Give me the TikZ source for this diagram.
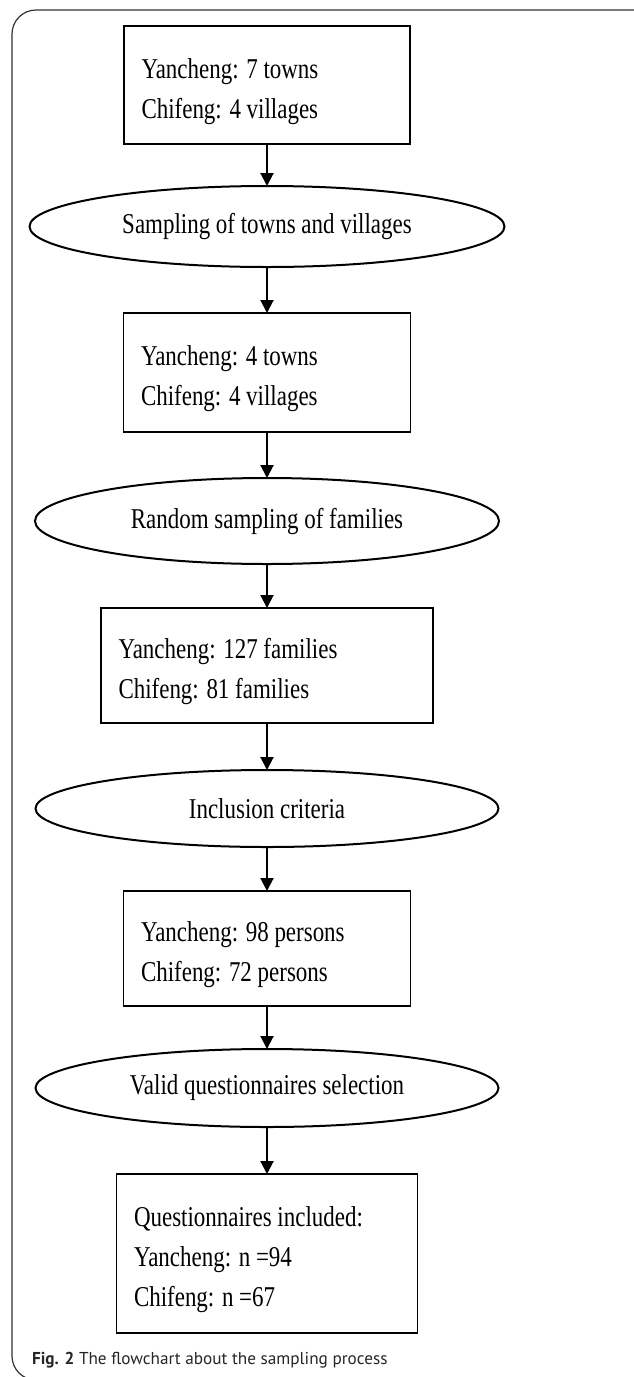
\documentclass[tikz,border=0pt]{standalone}
\usepackage{fontspec}
\setmainfont{Liberation Serif}[FakeStretch=0.8]
\newfontfamily\capfont{PT Sans}
\usetikzlibrary{positioning,shapes.geometric,arrows.meta}

\begin{document}
\begin{tikzpicture}[x=0.5pt, y=-0.5pt,
    stage/.style={draw, rectangle, line width=0.8pt, align=flush left, inner xsep=8.75pt, inner ysep=0pt, outer sep=0pt,
        font=\fontsize{14.35pt}{20pt}\selectfont, execute at begin node={\rule{0pt}{16.3pt}}},
    choice/.style={draw, ellipse, line width=1pt, inner sep=0pt, outer sep=0pt, font=\fontsize{14.35pt}{20pt}\selectfont},
    flow/.style={-{Triangle[length=6.5pt, width=6.5pt]}, line width=1pt}]
                  \useasboundingbox (0,0) rectangle (633,1377);
                  % Frame and caption
                  \draw [black!80, line width=0.6pt, rounded corners=12] (680,10) -| (12,1380) -- (680,1380);
                  \node [anchor=base west, text=black!85, font=\capfont\fontsize{8.6pt}{10pt}\selectfont] (caption) at (25,1364) {\textbf{Fig. 2} The flowchart about the sampling process};

                  % Boxes and sampling steps
                  \node [stage, text width=125.5pt, minimum height=59pt] (towns) at (267,85) {Yancheng: 7 towns\\Chifeng: 4 villages};
                  \node [choice, minimum width=237.5pt, minimum height=40.5pt, below=21pt of towns] (pickTowns) {Sampling of towns and villages};
                  \node [stage, text width=126pt, minimum height=59.5pt, below=23pt of pickTowns] (sites) {Yancheng: 4 towns\\Chifeng: 4 villages};
                  \node [choice, minimum width=232pt, minimum height=43pt, below=23pt of sites] (pickFamilies) {Random sampling of families};
                  \node [stage, text width=148.5pt, minimum height=57.5pt, below=22pt of pickFamilies] (families) {Yancheng: 127 families\\Chifeng: 81 families};
                  \node [choice, minimum width=231.5pt, minimum height=38.5pt, below=23.5pt of families] (criteria) {Inclusion criteria};
                  \node [stage, text width=126pt, minimum height=57.5pt, below=22pt of criteria] (persons) {Yancheng: 98 persons\\Chifeng: 72 persons};
                  \node [choice, minimum width=231.5pt, minimum height=39pt, below=21.5pt of persons] (selection) {Valid questionnaires selection};
                  \node [stage, text width=133pt, minimum height=79.5pt, below=23.5pt of selection] (included) {Questionnaires included:\\Yancheng: n =94\\Chifeng: n =67};

                  % Arrows
                  \draw [flow] (towns) -- (pickTowns);
                  \draw [flow] (pickTowns) -- (sites);
                  \draw [flow] (sites) -- (pickFamilies);
                  \draw [flow] (pickFamilies) -- (families);
                  \draw [flow] (families) -- (criteria);
                  \draw [flow] (criteria) -- (persons);
                  \draw [flow] (persons) -- (selection);
                  \draw [flow] (selection) -- (included);
              \end{tikzpicture}
\end{document}
